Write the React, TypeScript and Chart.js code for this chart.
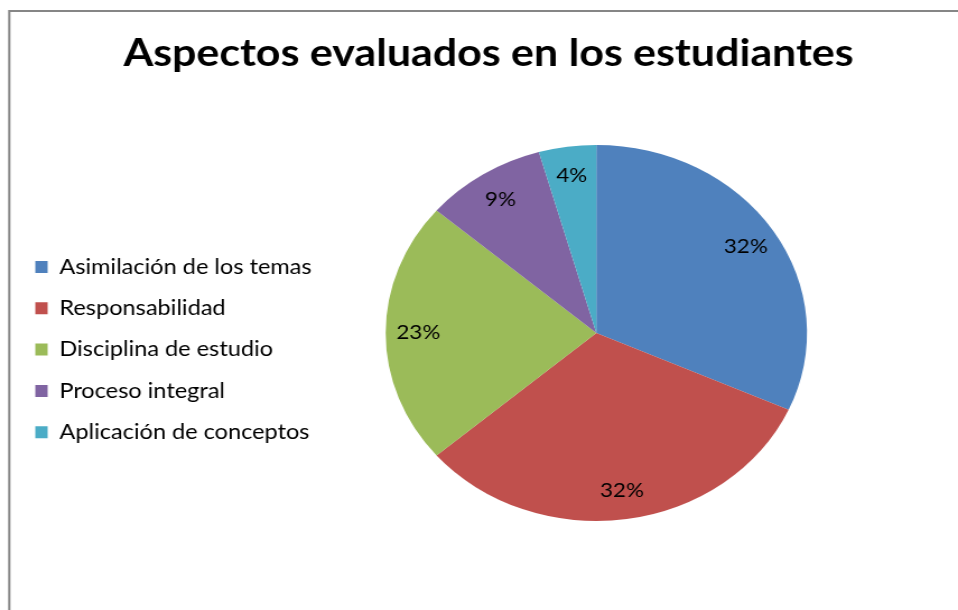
import React, { useEffect, useRef } from "react";
import { Chart, registerables } from "chart.js";

Chart.register(...registerables);

const titleText = "Aspectos evaluados en los estudiantes";
const categories = [
  "Asimilación de los temas",
  "Responsabilidad",
  "Disciplina de estudio",
  "Proceso integral",
  "Aplicación de conceptos",
];
const values = [31.7, 32.0, 22.6, 9.3, 4.4];
const colors = ["#4F81BD", "#C0504D", "#9BBB59", "#8064A2", "#4BACC6"];

const W = 855;
const H = 610;
const SCALE_X = 958 / W;
const TITLE_CENTER_X = 436;
const FONT = "Lato, 'Open Sans', sans-serif";

const borderPlugin = {
  id: "frameBorder",
  beforeDraw(chart: any) {
    const ctx = chart.ctx;
    ctx.save();
    ctx.fillStyle = "#ffffff";
    ctx.fillRect(0, 0, chart.width, chart.height);
    ctx.strokeStyle = "#868686";
    ctx.lineWidth = 2;
    ctx.strokeRect(8.3, 11, 3000, 3000);
    ctx.restore();
  },
};

const titleShiftPlugin = {
  id: "titleShift",
  afterLayout(chart: any) {
    const tb = chart.titleBlock;
    if (!tb) return;
    const w = tb.right - tb.left;
    tb.left = TITLE_CENTER_X - w / 2;
    tb.right = TITLE_CENTER_X + w / 2;
  },
};

const labelPlugin = {
  id: "sliceLabels",
  afterDatasetsDraw(chart: any) {
    const ctx = chart.ctx;
    const meta = chart.getDatasetMeta(0);
    const data = chart.data.datasets[0].data as number[];
    const total = data.reduce((a, b) => a + b, 0);
    ctx.save();
    ctx.font = `20px ${FONT}`;
    ctx.fillStyle = "#000000";
    ctx.textAlign = "center";
    ctx.textBaseline = "middle";
    meta.data.forEach((arc: any, i: number) => {
      const p = arc.getProps(["x", "y", "startAngle", "endAngle", "outerRadius"], true);
      const mid = (p.startAngle + p.endAngle) / 2;
      const r = p.outerRadius * 0.845;
      const tx = p.x + Math.cos(mid) * r;
      const ty = p.y + Math.sin(mid) * r;
      ctx.fillText(`${Math.round((data[i] / total) * 100)}%`, tx, ty);
    });
    ctx.restore();
  },
};

export default function App() {
  const canvasRef = useRef<HTMLCanvasElement | null>(null);

  useEffect(() => {
    const canvas = canvasRef.current;
    if (!canvas) return;
    const chart = new Chart(canvas, {
      type: "pie",
      data: {
        labels: categories,
        datasets: [
          {
            data: values,
            backgroundColor: colors,
            borderWidth: 0,
          },
        ],
      },
      options: {
        responsive: false,
        animation: false,
        devicePixelRatio: 1,
        layout: { padding: { left: 11.2, right: 78.6, top: 0, bottom: 89 } },
        plugins: {
          tooltip: { enabled: false },
          title: {
            display: true,
            text: titleText,
            color: "#000000",
            font: { family: FONT, size: 38.3, weight: "bold", lineHeight: 1.2 },
            padding: { top: 30.7, bottom: 68.3 },
          },
          legend: {
            display: true,
            position: "left",
            fullSize: false,
            title: {
              display: true,
              text: "",
              font: { size: 10, lineHeight: 1.2 },
              padding: { top: 10, bottom: 11.2 },
            },
            labels: {
              color: "#000000",
              font: { family: FONT, size: 21 },
              boxWidth: 11,
              boxHeight: 12,
              padding: 20.3,
            },
          },
        },
      },
      plugins: [borderPlugin, titleShiftPlugin, labelPlugin],
    });
    return () => chart.destroy();
  }, []);

  return (
    <div style={{ position: "absolute", left: 0, top: 0, width: 958, height: 610, overflow: "hidden", background: "#fff" }}>
      <div style={{ width: W, height: H, transform: `scaleX(${SCALE_X})`, transformOrigin: "0 0" }}>
        <canvas ref={canvasRef} width={W} height={H} style={{ display: "block", width: W, height: H }} />
      </div>
    </div>
  );
}
